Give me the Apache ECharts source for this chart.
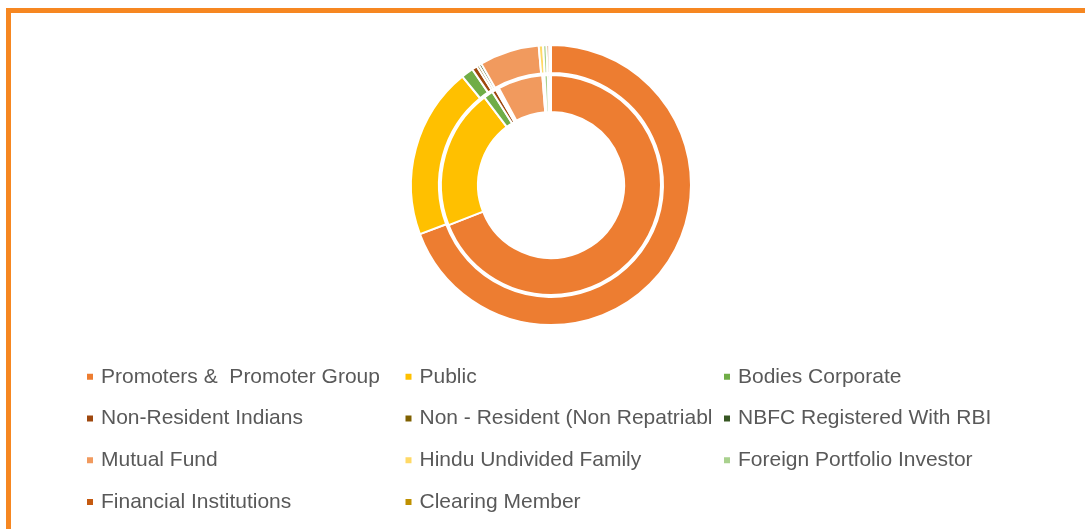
<!DOCTYPE html>
<html>
<head>
<meta charset="utf-8">
<title>Shareholding Pattern</title>
<script src="https://cdn.jsdelivr.net/npm/echarts@6/dist/echarts.min.js"></script>
<style>
  html, body { margin: 0; padding: 0; background: #fff; }
  #chart { width: 1085px; height: 529px; }
</style>
</head>
<body>
<div id="chart"></div>
<script>
// shareholder categories (legend order = slice order)
const categories = [
  'Promoters &  Promoter Group',
  'Public',
  'Bodies Corporate',
  'Non-Resident Indians',
  'Non - Resident (Non Repatriable)',
  'NBFC Registered With RBI',
  'Mutual Fund',
  'Hindu Undivided Family',
  'Foreign Portfolio Investor',
  'Financial Institutions',
  'Clearing Member'
]

const colors = [
  '#ED7D31', '#FFC000', '#70AD47',
  '#9E480E', '#7F6000', '#375623',
  '#F19A5E', '#FFD966', '#A9D18E',
  '#C55A11', '#BF9000'
]

// outer ring (%)
const outerValues = [69.3, 19.8, 1.4, 0.6, 0.3, 0.3, 6.9, 0.5, 0.4, 0.3, 0.2]
// inner ring (%)
const innerValues = [69.05, 20.6, 1.4, 0.6, 0.3, 0.2, 6.6, 0.3, 0.5, 0.3, 0.15]

const toData = (vals) => categories.map((name, i) => ({
  name: name,
  value: vals[i],
  itemStyle: { color: colors[i] }
}))

const chart = echarts.init(document.getElementById('chart'))

chart.setOption({
  backgroundColor: '#fff',
  animation: false,
  graphic: [{
    type: 'rect',
    shape: { x: 8.5, y: 10.5, width: 1200, height: 700 },
    style: { fill: 'none', stroke: '#F68721', lineWidth: 5 },
    silent: true
  }],
  legend: {
    data: categories,
    left: 85,
    top: 356,
    width: 960,
    padding: 0,
    itemGap: 0,
    itemWidth: 8,
    itemHeight: 8,
    icon: 'rect',
    selectedMode: false,
    textStyle: {
      fontFamily: 'Liberation Sans, Arial, sans-serif',
      fontSize: 21,
      color: '#595959',
      width: 302.5,
      lineHeight: 41.7,
      overflow: 'truncate',
      ellipsis: '',
      padding: [0, 0, 0, 2]
    }
  },
  series: [
    {
      name: 'outer',
      type: 'pie',
      center: [551, 185],
      radius: [112, 140],
      startAngle: 90,
      clockwise: true,
      label: { show: false },
      labelLine: { show: false },
      emphasis: { disabled: true },
      itemStyle: { borderColor: '#fff', borderWidth: 2 },
      data: toData(outerValues)
    },
    {
      name: 'inner',
      type: 'pie',
      center: [551, 185],
      radius: [73, 110],
      startAngle: 90,
      clockwise: true,
      label: { show: false },
      labelLine: { show: false },
      emphasis: { disabled: true },
      itemStyle: { borderColor: '#fff', borderWidth: 2 },
      data: toData(innerValues)
    }
  ]
})
</script>
</body>
</html>
